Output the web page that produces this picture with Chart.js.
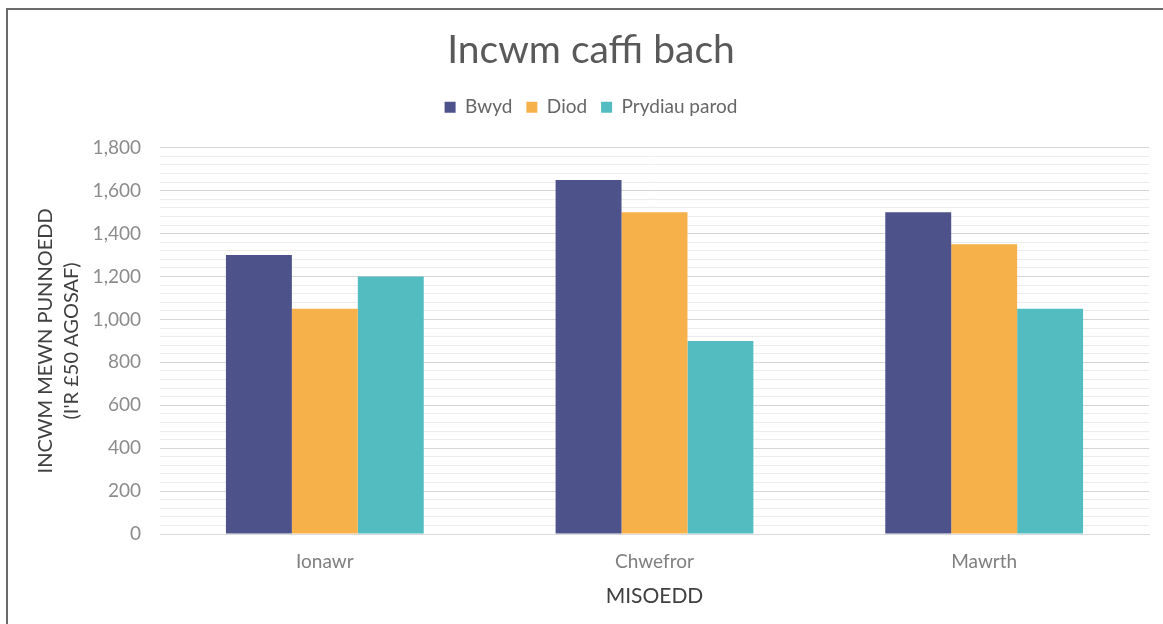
<!DOCTYPE html>
<html>
<head>
<meta charset="utf-8">
<script src="https://cdn.jsdelivr.net/npm/chart.js@4"></script>
<style>
  body { margin: 0; background: #fff; }
  #wrap { position: relative; width: 1163px; height: 624px; }
  #frame { position: absolute; left: 6px; top: 8px; right: -4px; bottom: -4px;
           border-top: 2px solid #6a6a6a; border-left: 2px solid #6a6a6a; }
</style>
</head>
<body>
<div id="wrap">
  <div id="frame"></div>
  <canvas id="incomeChart" width="1163" height="624"></canvas>
</div>
<script>
const months = ["Ionawr", "Chwefror", "Mawrth"];
const bwyd = [1300, 1650, 1500];
const diod = [1050, 1500, 1350];
const prydiau = [1200, 900, 1050];

// push the plot area down a bit below the legend
const legendGap = {
  id: "legendGap",
  beforeInit(chart) {
    const fit = chart.legend.fit;
    chart.legend.fit = function () {
      fit.bind(chart.legend)();
      this.height += 21;
    };
  },
};

window.addEventListener("DOMContentLoaded", () => {
  const ctx = document.getElementById("incomeChart").getContext("2d");
  Chart.defaults.font.family = "Lato, 'Open Sans', sans-serif";

  new Chart(ctx, {
    type: "bar",
    data: {
      labels: months,
      datasets: [
        { label: "Bwyd", data: bwyd, backgroundColor: "#4d528b" },
        { label: "Diod", data: diod, backgroundColor: "#f7b14b" },
        { label: "Prydiau parod", data: prydiau, backgroundColor: "#53bcc1" },
      ],
    },
    plugins: [legendGap],
    options: {
      responsive: false,
      animation: false,
      layout: { padding: { left: 33, right: 14, top: 20, bottom: 15 } },
      datasets: { bar: { categoryPercentage: 0.6, barPercentage: 1.0 } },
      plugins: {
        title: {
          display: true,
          text: "Incwm caffi bach",
          color: "#595959",
          font: { size: 39, weight: "normal" },
          padding: { top: 7, bottom: 10 },
        },
        legend: {
          position: "top",
          labels: {
            color: "#666666",
            font: { size: 19 },
            boxWidth: 11,
            boxHeight: 11,
            padding: 14,
          },
        },
        tooltip: { enabled: false },
      },
      scales: {
        x: {
          grid: { display: false },
          border: { color: "#d9d9d9" },
          ticks: { color: "#7f7f7f", font: { size: 19 }, padding: 8 },
          title: {
            display: true,
            text: "MISOEDD",
            color: "#404040",
            font: { size: 21 },
            padding: { top: 3, bottom: 0 },
          },
        },
        y: {
          min: 0,
          max: 1800,
          border: { display: false },
          afterFit: (scale) => { scale.width = 127; },
          grid: {
            color: (c) => (c.tick && c.tick.value % 200 === 0 ? "#d6d6d6" : "#ececec"),
            drawTicks: false,
          },
          ticks: {
            stepSize: 40,
            autoSkip: false,
            color: "#8c8c8c",
            font: { size: 19 },
            padding: 19,
            callback: (v) => (v % 200 === 0 ? v.toLocaleString("en-US") : ""),
          },
          title: {
            display: true,
            text: ["INCWM MEWN PUNNOEDD", "(I'R £50 AGOSAF)"],
            color: "#404040",
            font: { size: 20, lineHeight: 1.3 },
            padding: { top: 0, bottom: 7 },
          },
        },
      },
    },
  });
});
</script>
</body>
</html>
